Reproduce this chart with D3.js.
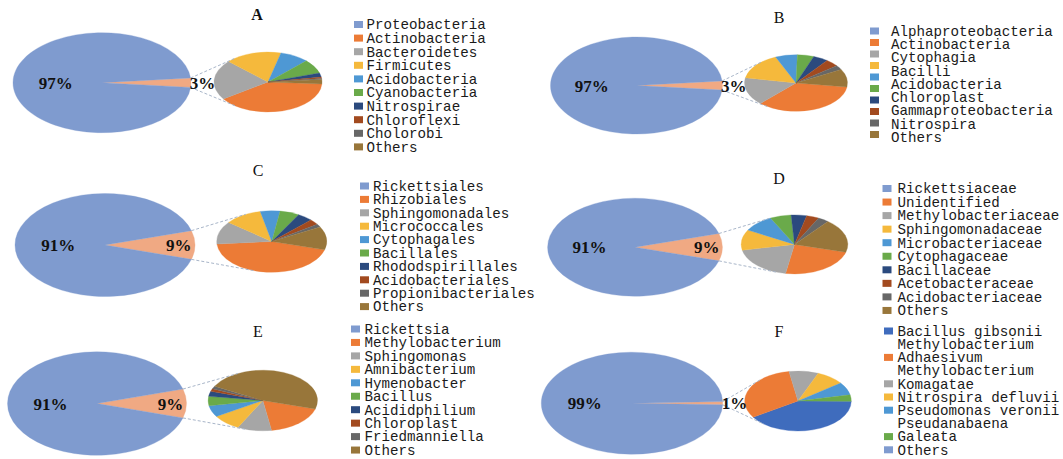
<!DOCTYPE html>
<html>
<head>
<meta charset="utf-8">
<script src="https://cdn.jsdelivr.net/npm/d3@7"></script>
<style>
  html, body { margin: 0; padding: 0; background: #ffffff; }
  svg { display: block; }
</style>
</head>
<body>
<svg id="chart" width="1063" height="459"></svg>
<script>
// ---- data -------------------------------------------------------------
const titles = ["A", "B", "C", "D", "E", "F"];

// share of the main pie: [dominant group, split-off remainder] in %
const mainA = [97, 3];
const mainB = [97, 3];
const mainC = [91, 9];
const mainD = [91, 9];
const mainE = [91, 9];
const mainF = [99, 1];

// legend labels
const labelsA = ["Proteobacteria", "Actinobacteria", "Bacteroidetes", "Firmicutes", "Acidobacteria",
                 "Cyanobacteria", "Nitrospirae", "Chloroflexi", "Cholorobi", "Others"];
const labelsB = ["Alphaproteobacteria", "Actinobacteria", "Cytophagia", "Bacilli", "Acidobacteria",
                 "Chloroplast", "Gammaproteobacteria", "Nitrospira", "Others"];
const labelsC = ["Rickettsiales", "Rhizobiales", "Sphingomonadales", "Micrococcales", "Cytophagales",
                 "Bacillales", "Rhododspirillales", "Acidobacteriales", "Propionibacteriales", "Others"];
const labelsD = ["Rickettsiaceae", "Unidentified", "Methylobacteriaceae", "Sphingomonadaceae", "Microbacteriaceae",
                 "Cytophagaceae", "Bacillaceae", "Acetobacteraceae", "Acidobacteriaceae", "Others"];
const labelsE = ["Rickettsia", "Methylobacterium", "Sphingomonas", "Amnibacterium", "Hymenobacter",
                 "Bacillus", "Acididphilium", "Chloroplast", "Friedmanniella", "Others"];
const labelsF = ["Bacillus gibsonii", "Methylobacterium Adhaesivum", "Methylobacterium Komagatae",
                 "Nitrospira defluvii", "Pseudomonas veronii", "Pseudanabaena Galeata", "Others"];

// composition of the split-off part (% of the secondary pie), clockwise
const splitA = [39.4, 21.5, 16.9, 8.7, 7.6, 2.2, 0.8, 0.5, 2.4];
const splitB = [34.9, 15.8, 15.6, 6.9, 5.2, 4.7, 4.2, 2.5, 10.2];
const splitC = [44.3, 12.0, 11.0, 5.8, 5.7, 4.5, 2.9, 1.6, 12.2];
const splitD = [23.4, 19.2, 11.2, 9.5, 6.4, 4.7, 3.8, 3.3, 18.5];
const splitE = [17.9, 10.1, 8.6, 6.1, 5.0, 2.7, 1.4, 1.5, 46.7];
const splitF = [40.7, 31.4, 8.9, 8.6, 6.9, 3.5];

// ---- styles -----------------------------------------------------------
const palette = ["#7f9bcf", "#ec7b36", "#a6a6a6", "#f5b93c", "#4e98d4",
                 "#6aaa4a", "#2b4a7e", "#a24a1f", "#676767", "#98763a"];
const paletteF = ["#3f6cbd", "#ec7b36", "#a6a6a6", "#f5b93c", "#4e98d4", "#6aaa4a", "#7f9bcf"];
const wedgeColor = "#f0a983";
const connectorColor = "#a9b6c9";
const monoFont = "'Liberation Mono', 'DejaVu Sans Mono', monospace";
const serifFont = "'Liberation Serif', 'DejaVu Serif', serif";

// ---- layout -----------------------------------------------------------
const panels = [
  { title: titles[0], main: mainA, labels: labelsA, split: splitA, colors: palette, mainFirst: true,
    big: { cx: 102, cy: 82.7, rx: 89, ry: 50 }, small: { cx: 268, cy: 82, rx: 54, ry: 30 }, start: 3.8,
    titlePos: [257, 14], titleBold: true,
    legend: { sx: 354, tx: 366.5, y0: 24.5, step: 13.6 } },
  { title: titles[1], main: mainB, labels: labelsB, split: splitB, colors: palette, mainFirst: true,
    big: { cx: 636.5, cy: 85.5, rx: 86, ry: 48.5 }, small: { cx: 796, cy: 83, rx: 51.5, ry: 28.3 }, start: 8,
    titlePos: [779, 17],
    legend: { sx: 870, tx: 891, y0: 31, step: 13.25, sqY0: 31, sqStep: 11.5 } },
  { title: titles[2], main: mainC, labels: labelsC, split: splitC, colors: palette, mainFirst: true,
    big: { cx: 105, cy: 245, rx: 90, ry: 51.5 }, small: { cx: 271.7, cy: 241.5, rx: 55, ry: 30.8 }, start: 15.7,
    titlePos: [258, 170.5],
    legend: { sx: 360, tx: 373, y0: 186, step: 13.4 } },
  { title: titles[3], main: mainD, labels: labelsD, split: splitD, colors: palette, mainFirst: true,
    big: { cx: 635, cy: 247.2, rx: 87.4, ry: 49 }, small: { cx: 794.5, cy: 244.4, rx: 53.3, ry: 29.5 }, start: 15.4,
    titlePos: [779, 178],
    legend: { sx: 882.5, tx: 897.5, y0: 188.5, step: 13.55 } },
  { title: titles[4], main: mainE, labels: labelsE, split: splitE, colors: palette, mainFirst: true,
    big: { cx: 97, cy: 403.5, rx: 89.5, ry: 51.7 }, small: { cx: 262.8, cy: 400.5, rx: 54.7, ry: 30.3 }, start: 16.3,
    titlePos: [258, 331],
    legend: { sx: 351, tx: 364.5, y0: 329, step: 13.45 } },
  { title: titles[5], main: mainF, labels: labelsF, split: splitF, colors: paletteF, mainFirst: false,
    big: { cx: 632, cy: 403.2, rx: 90.7, ry: 51 }, small: { cx: 798, cy: 401, rx: 53.3, ry: 30 }, start: 0.7,
    titlePos: [779, 331],
    legend: { sx: 884, tx: 897.5, y0: 331, step: 13.2 } }
];

const svg = d3.select("#chart");
const deg = Math.PI / 180;

// point where a line from (px,py) touches the ellipse e tangentially
function tangentPoint(px, py, e, upper) {
  const k = e.rx / e.ry;
  const ux = px - e.cx, uy = (py - e.cy) * k;
  const d = Math.hypot(ux, uy);
  const phi = Math.atan2(uy, ux);
  const alpha = Math.acos(Math.min(1, e.rx / d));
  const t = upper ? phi + alpha : phi - alpha;
  return [e.cx + e.rx * Math.cos(t), e.cy + e.ry * Math.sin(t)];
}

// wrap long legend entries onto two lines
function wrapLabel(s) {
  if (s.length <= 20) return [s];
  const i = s.lastIndexOf(" ");
  return [s.slice(0, i), s.slice(i + 1)];
}

panels.forEach(p => {
  const g = svg.append("g");
  const share = p.main[1] / 100;
  const mainColor = p.mainFirst ? p.colors[0] : p.colors[p.colors.length - 1];
  const splitColors = p.mainFirst ? p.colors.slice(1) : p.colors.slice(0, p.colors.length - 1);

  // main pie: remainder wedge centred on 3 o'clock
  const mainPie = d3.pie().sort(null).value(d => d.v)
    .startAngle(Math.PI / 2 - share * Math.PI)
    .endAngle(Math.PI / 2 - share * Math.PI + 2 * Math.PI);
  const mainArcs = mainPie([{ v: p.main[1], c: wedgeColor }, { v: p.main[0], c: mainColor }]);
  const bigArc = d3.arc().innerRadius(0).outerRadius(p.big.rx);
  g.append("g")
    .attr("transform", `translate(${p.big.cx},${p.big.cy}) scale(1,${p.big.ry / p.big.rx})`)
    .selectAll("path").data(mainArcs).join("path")
    .attr("d", bigArc)
    .attr("fill", d => d.data.c)
    .attr("stroke", d => d.data.c)
    .attr("stroke-width", 0.4);

  // secondary pie
  const s0 = (p.start + 90) * deg;
  const splitPie = d3.pie().sort(null).startAngle(s0).endAngle(s0 + 2 * Math.PI);
  const smallArc = d3.arc().innerRadius(0).outerRadius(p.small.rx);
  g.append("g")
    .attr("transform", `translate(${p.small.cx},${p.small.cy}) scale(1,${p.small.ry / p.small.rx})`)
    .selectAll("path").data(splitPie(p.split)).join("path")
    .attr("d", smallArc)
    .attr("fill", (d, i) => splitColors[i])
    .attr("stroke", (d, i) => splitColors[i])
    .attr("stroke-width", 0.4);

  // connector lines
  const a = share * Math.PI;
  const up = [p.big.cx + p.big.rx * Math.cos(-a), p.big.cy + p.big.ry * Math.sin(-a)];
  const dn = [p.big.cx + p.big.rx * Math.cos(a), p.big.cy + p.big.ry * Math.sin(a)];
  const upT = tangentPoint(up[0], up[1], p.small, true);
  const dnT = tangentPoint(dn[0], dn[1], p.small, false);
  [[up, upT], [dn, dnT]].forEach(([s, t]) => {
    g.append("line")
      .attr("x1", s[0]).attr("y1", s[1]).attr("x2", t[0]).attr("y2", t[1])
      .attr("stroke", connectorColor).attr("stroke-width", 1)
      .attr("stroke-dasharray", "3,2");
  });

  // percentage labels
  g.append("text")
    .attr("x", p.big.cx - 0.52 * p.big.rx).attr("y", p.big.cy).attr("dy", "0.36em")
    .attr("text-anchor", "middle")
    .attr("font-family", serifFont).attr("font-size", 17).attr("font-weight", "bold")
    .attr("fill", "#111")
    .text(p.main[0] + "%");
  const k = share < 0.05 ? 1.13 : 0.82;
  g.append("text")
    .attr("x", p.big.cx + k * p.big.rx).attr("y", p.big.cy).attr("dy", "0.36em")
    .attr("text-anchor", "middle")
    .attr("font-family", serifFont).attr("font-size", 17).attr("font-weight", "bold")
    .attr("fill", "#111")
    .text(p.main[1] + "%");

  // panel title
  g.append("text")
    .attr("x", p.titlePos[0]).attr("y", p.titlePos[1]).attr("dy", "0.36em")
    .attr("text-anchor", "middle")
    .attr("font-family", serifFont).attr("font-size", 16)
    .attr("font-weight", p.titleBold ? "bold" : "normal")
    .attr("fill", "#111")
    .text(p.title);

  // legend
  const L = p.legend;
  const lg = g.append("g");
  let row = 0;
  const squareRows = [];
  p.labels.forEach(lbl => {
    const lines = wrapLabel(lbl);
    lines.forEach(line => {
      lg.append("text")
        .attr("x", L.tx).attr("y", L.y0 + row * L.step).attr("dy", "0.34em")
        .attr("font-family", monoFont).attr("font-size", 14.2)
        .attr("fill", "#1a1a1a")
        .text(line);
      row++;
    });
    squareRows.push(row - 1);
  });
  p.colors.forEach((c, i) => {
    const yc = L.sqStep ? L.sqY0 + i * L.sqStep : L.y0 + squareRows[i] * L.step;
    lg.append("rect")
      .attr("x", L.sx).attr("y", yc - 3.5)
      .attr("width", 9).attr("height", 7)
      .attr("fill", c);
  });
});
</script>
</body>
</html>
